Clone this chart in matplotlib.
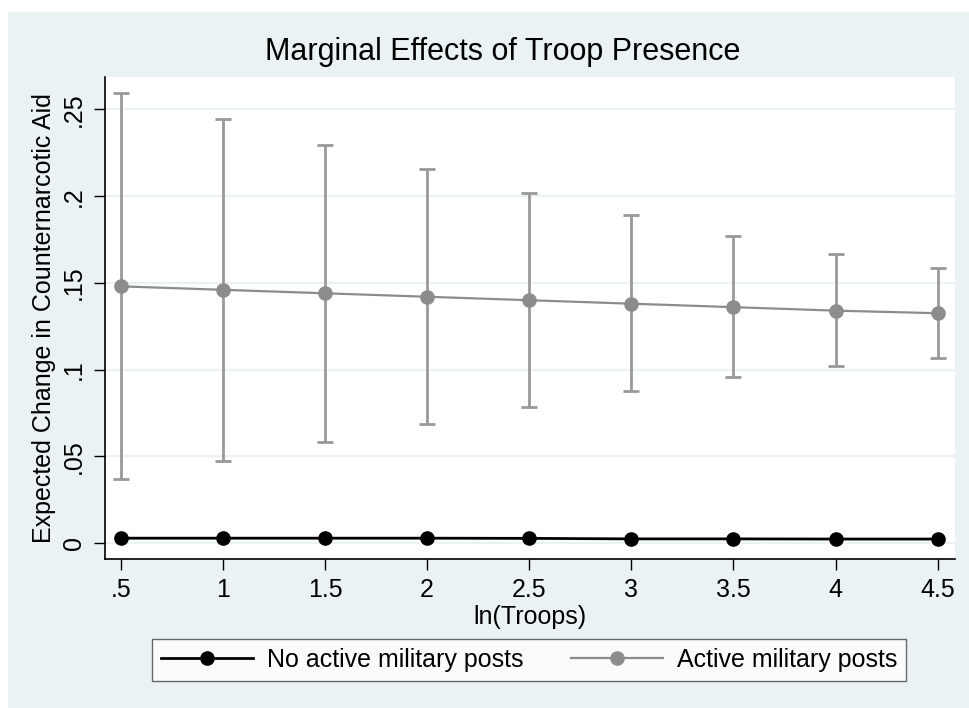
import matplotlib.pyplot as plt
from matplotlib.patches import Rectangle
from matplotlib.lines import Line2D

plt.rcParams["font.family"] = ["Liberation Sans", "DejaVu Sans"]

# log troop levels
ln_troops = [0.5, 1.0, 1.5, 2.0, 2.5, 3.0, 3.5, 4.0, 4.5]

# marginal effect, no active posts
no_posts = [0.0028, 0.0028, 0.0028, 0.0028, 0.0027, 0.0024, 0.0024, 0.0023, 0.0023]

# marginal effect with 95% bounds, active posts
active = [0.148, 0.146, 0.144, 0.142, 0.140, 0.138, 0.136, 0.134, 0.1325]
active_lo = [0.0367, 0.0475, 0.0582, 0.0684, 0.0782, 0.0875, 0.0956, 0.1023, 0.1065]
active_hi = [0.2597, 0.2443, 0.2297, 0.2155, 0.2020, 0.1892, 0.1769, 0.1665, 0.1586]

xticks = [0.5, 1, 1.5, 2, 2.5, 3, 3.5, 4, 4.5]
xticklabels = [".5", "1", "1.5", "2", "2.5", "3", "3.5", "4", "4.5"]
yticks = [0, 0.05, 0.1, 0.15, 0.2, 0.25]
yticklabels = ["0", ".05", ".1", ".15", ".2", ".25"]

bg = "#eaf2f3"
gray = "#8c8c8c"
bar_gray = "#999999"

W, H = 969, 708
fig = plt.figure(figsize=(W / 100, H / 100), dpi=100, facecolor="white")
fig.patches.append(Rectangle((8 / W, 0), 1, 1 - 12 / H, transform=fig.transFigure,
                             facecolor=bg, edgecolor="none", zorder=-10))

ax = fig.add_axes([105 / W, 1 - 559 / H, (955 - 105) / W, (559 - 77) / H])
ax.set_facecolor("white")

for y in yticks:
    ax.axhline(y, color=bg, lw=1.6, zorder=0)

lo_err = [a - l for a, l in zip(active, active_lo)]
hi_err = [h - a for a, h in zip(active, active_hi)]
ax.errorbar(ln_troops, active, yerr=[lo_err, hi_err], fmt="none",
            ecolor=bar_gray, elinewidth=2.0, capsize=6, capthick=2.0, zorder=2)
ax.plot(ln_troops, active, color=gray, lw=1.6, marker="o", ms=9.5,
        markeredgecolor=gray, zorder=3)
ax.plot(ln_troops, no_posts, color="black", lw=2.0, marker="o", ms=9.5, zorder=3)

ax.set_xlim(0.423, 4.585)
ax.set_ylim(-0.0092, 0.2687)

ax.set_xticks(xticks)
ax.set_xticklabels(xticklabels)
ax.set_yticks(yticks)
ax.set_yticklabels(yticklabels, rotation=90, va="center")
ax.tick_params(axis="both", direction="out", length=8, width=1.0,
               labelsize=18, pad=6, color="black")

for side in ("top", "right"):
    ax.spines[side].set_visible(False)
for side in ("left", "bottom"):
    ax.spines[side].set_linewidth(1.2)

ax.set_xlabel("ln(Troops)", fontsize=18, labelpad=2)
ax.set_ylabel("Expected Change in Counternarcotic Aid", fontsize=18, labelpad=4)

fig.text(503 / W, 1 - 52 / H, "Marginal Effects of Troop Presence",
         fontsize=22, ha="center", va="center")

handles = [
    Line2D([], [], color="black", lw=2.0, marker="o", ms=9.5),
    Line2D([], [], color=gray, lw=1.6, marker="o", ms=9.5),
]
leg = fig.legend(handles, ["No active military posts", "Active military posts"],
                 ncol=2, loc="center", bbox_to_anchor=(529 / W, 1 - 660 / H),
                 fontsize=18, frameon=True, fancybox=False, handlelength=3.7,
                 handletextpad=0.55, columnspacing=1.9, borderpad=0.35,
                 borderaxespad=0)
leg.get_frame().set_edgecolor("#444444")
leg.get_frame().set_linewidth(1.0)
leg.get_frame().set_facecolor("white")

fig.savefig("out.png", dpi=100, facecolor=fig.get_facecolor())
